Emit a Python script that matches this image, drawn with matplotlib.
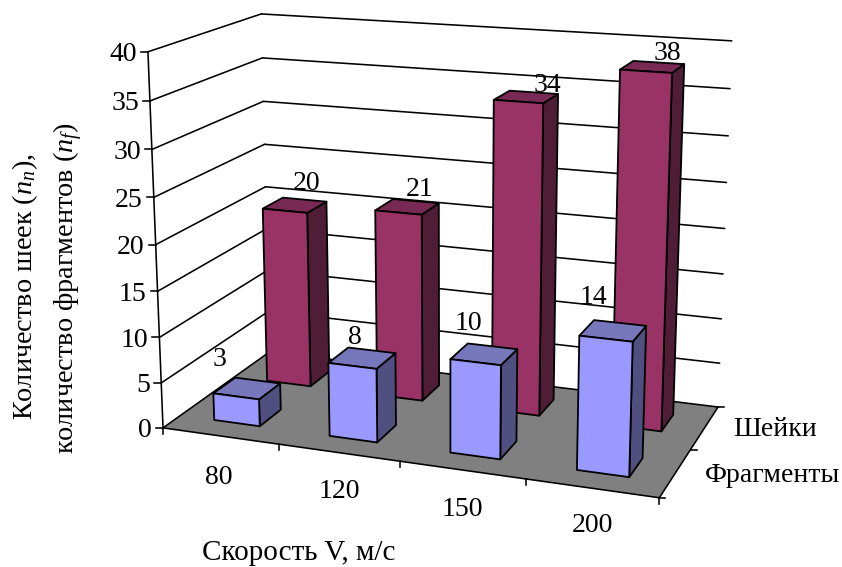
import numpy as np
import matplotlib
matplotlib.use("Agg")
import matplotlib.pyplot as plt
from matplotlib.patches import Polygon

plt.rcParams['font.family'] = ['Liberation Serif', 'DejaVu Serif']
plt.rcParams['mathtext.fontset'] = 'custom'
plt.rcParams['mathtext.rm'] = 'Liberation Serif'
plt.rcParams['mathtext.it'] = 'Liberation Serif:italic'

categories = ['80', '120', '150', '200']
series_names = ['Фрагменты', 'Шейки']
fragments = [3, 8, 10, 14]
necks = [20, 21, 34, 38]
y_ticks = [0, 5, 10, 15, 20, 25, 30, 35, 40]

# box corners seen on the picture: category pos, series pos, value -> pixel
calib = [
    (0, 0, 0, 163, 430), (4, 0, 0, 659, 497), (4, 2, 0, 718, 408),
    (0, 2, 40, 261, 14), (0, 0, 40, 148, 52), (4, 2, 40, 732, 41),
    (0, 0, 20, 156, 243), (0, 2, 20, 265, 188), (4, 2, 20, 725, 228),
    (0, 2, 0, 270, 350),
]

A = []
b = []
for cx, cy, cz, px, py in calib:
    A.append([cx, cy, cz, 1, 0, 0, 0, 0, -px * cx, -px * cy, -px * cz])
    A.append([0, 0, 0, 0, cx, cy, cz, 1, -py * cx, -py * cy, -py * cz])
    b += [px, py]
P = np.linalg.lstsq(np.array(A, float), np.array(b, float), rcond=None)[0]
P = np.append(P, 1).reshape(3, 4)

LW = 1.15


def proj(x, y, z):
    u = P @ np.array([x, y, z, 1.0])
    return u[0] / u[2], u[1] / u[2]


def face(ax, pts, color):
    ax.add_patch(Polygon([proj(*p) for p in pts], closed=True, facecolor=color,
                         edgecolor='black', linewidth=1.3, joinstyle='round', zorder=5))


def line(ax, a, b):
    pa, pb = proj(*a), proj(*b)
    ax.plot([pa[0], pb[0]], [pa[1], pb[1]], color='black', lw=LW, solid_capstyle='round')


def bar(ax, xc, yc, val, cols):
    hw = 0.2
    hd = 0.2
    x0, x1, y0, y1 = xc - hw, xc + hw, yc - hd, yc + hd
    face(ax, [(x1, y0, 0), (x1, y1, 0), (x1, y1, val), (x1, y0, val)], cols[2])
    face(ax, [(x0, y0, val), (x1, y0, val), (x1, y1, val), (x0, y1, val)], cols[1])
    face(ax, [(x0, y0, 0), (x1, y0, 0), (x1, y0, val), (x0, y0, val)], cols[0])


fig = plt.figure(figsize=(8.42, 5.67), dpi=100)
ax = fig.add_axes([0, 0, 1, 1])
ax.set_xlim(0, 842)
ax.set_ylim(567, 0)
ax.axis('off')

# floor
ax.add_patch(Polygon([proj(0, 0, 0), proj(4, 0, 0), proj(4, 2, 0), proj(0, 2, 0)],
                     closed=True, facecolor='#808080', edgecolor='none', zorder=1))

# walls
for t in y_ticks:
    line(ax, (0, 0, t), (0, 2, t))
    line(ax, (0, 2, t), (4, 2, t))
    p = proj(0, 0, t)
    ax.plot([p[0] - 7, p[0]], [p[1], p[1]], color='black', lw=LW)
    ax.text(p[0] - 11, p[1] + 3, str(t), ha='right', va='center', fontsize=20)
line(ax, (0, 0, 0), (0, 0, 40))
line(ax, (0, 0, 0), (4, 0, 0))
line(ax, (4, 0, 0), (4, 2, 0))

# ticks on the floor edges
for i in range(5):
    p = proj(i, 0, 0)
    ax.plot([p[0], p[0]], [p[1], p[1] + 6], color='black', lw=LW)
for j in range(3):
    p = proj(4, j, 0)
    ax.plot([p[0], p[0] + 6], [p[1], p[1]], color='black', lw=LW)

red = ('#993366', '#782A55', '#4F1D36')
blue = ('#9999FF', '#7777BB', '#4F4F80')

for i in range(4):
    bar(ax, i + 0.5, 1.5, necks[i], red)
for i in range(4):
    bar(ax, i + 0.5, 0.5, fragments[i], blue)

# data labels
frag_lab_xy = [(220, 360), (355, 338), (468, 324), (593, 298)]
neck_lab_xy = [(307, 183), (420, 190), (547, 86), (667, 53)]
for v, xy in zip(fragments, frag_lab_xy):
    ax.text(xy[0], xy[1], str(v), ha='center', va='center', fontsize=20, zorder=6)
for v, xy in zip(necks, neck_lab_xy):
    ax.text(xy[0], xy[1], str(v), ha='center', va='center', fontsize=20, zorder=6)

# category labels
cat_xy = [(219, 477), (339, 492), (462, 509), (592, 526)]
for c, xy in zip(categories, cat_xy):
    ax.text(xy[0], xy[1], c, ha='center', va='center', fontsize=20)

ax.text(705, 476, series_names[0], ha='left', va='center', fontsize=20)
ax.text(733, 429, series_names[1], ha='left', va='center', fontsize=20)

ax.text(299, 553, 'Скорость V, м/с', ha='center', va='center', fontsize=21)
ax.text(25, 287, 'Количество шеек ($n_n$),', rotation=90, ha='center', va='center', fontsize=20.3)
ax.text(68, 288, 'количество фрагментов ($n_f$)', rotation=90, ha='center', va='center', fontsize=20.3)

fig.savefig('out.png', dpi=100)
